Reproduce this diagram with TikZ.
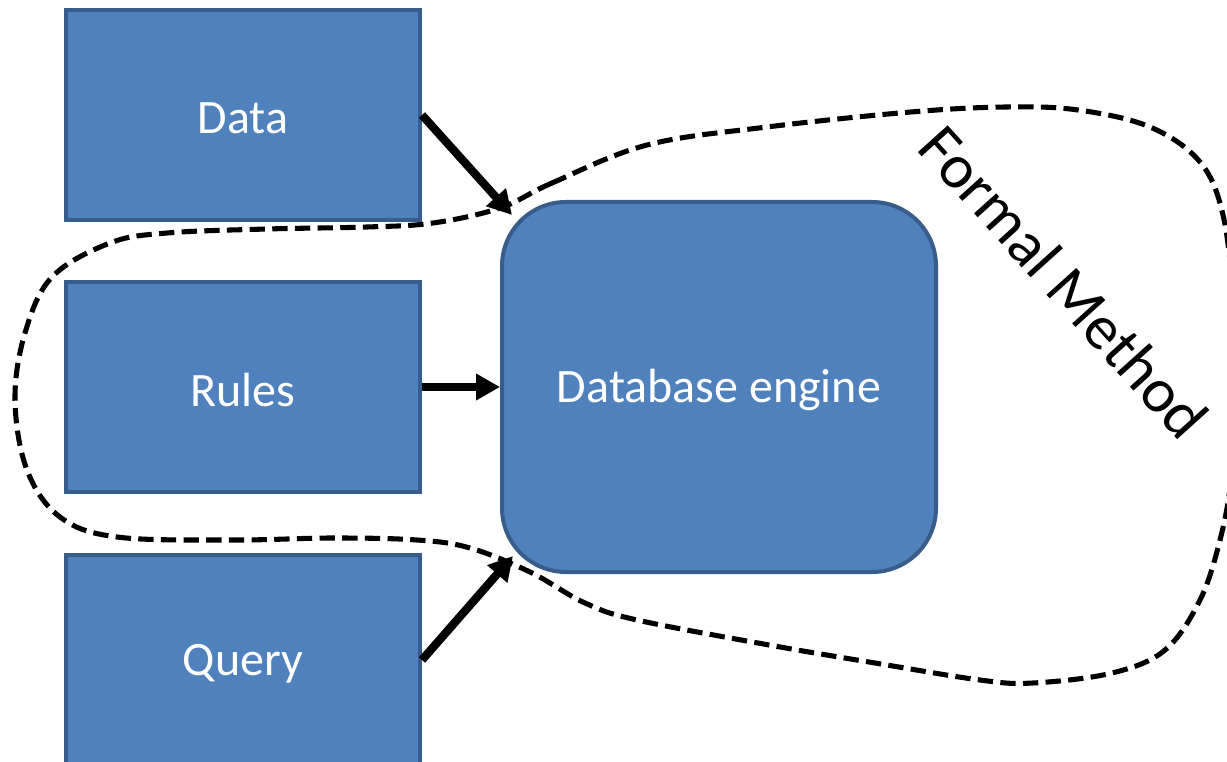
\documentclass[tikz,border=0pt]{standalone}
\usepackage{fontspec}
\setmainfont{Carlito}
\usetikzlibrary{arrows.meta}
\definecolor{boxfill}{HTML}{4F81BD}
\definecolor{boxline}{HTML}{385D8A}
% set a label a little below the centre of its box
\newcommand{\lowered}[1]{\raisebox{-2.5pt}[\height][\depth]{#1}}
\begin{document}
\begin{tikzpicture}[x=0.75pt,y=-0.75pt,
  block/.style={draw=boxline, fill=boxfill, line width=3pt, text=white,
    font=\fontsize{36}{43}\selectfont, minimum width=265.5pt,
    minimum height=157.5pt, inner sep=0pt},
  engine/.style={block, rounded corners=48pt, minimum width=325.5pt,
    minimum height=277.5pt},
  feed/.style={line width=6.2pt, -{Triangle[length=18pt,width=19pt]}},
  boundary/.style={line width=3.8pt, dash pattern=on 11.5pt off 5.5pt}]
\useasboundingbox (0,0) rectangle (1227,762);

% inputs and the engine
\node[block] (data)  at (243,115) {\lowered{Data}};
\node[block] (rules) at (243,387) {\lowered{Rules}};
\node[block] (query) at (243,660) {\lowered{Query}};
\node[engine] (engine) at (719,387) {\lowered{Database engine}};

% arrow ends on the engine's rounded corners
\coordinate (datatip)  at (512,215);
\coordinate (querytip) at (513,556);

\draw[feed] (data.east) -- (datatip);
\draw[feed] (rules.east) -- (engine.west);
\draw[feed] (query.east) -- (querytip);

% scope of the formal method
\draw[boundary] plot[smooth cycle, tension=0.6] coordinates {
  (500,208) (552,183) (647,145) (767,127) (911,112) (1006,107) (1078,110)
  (1150,127) (1200,162) (1223,215) (1233,300) (1236,400) (1231,480)
  (1220,540) (1200,600) (1165,650) (1112,673) (1033,683) (980,680)
  (875,663) (769,645) (637,620) (585,603) (530,572) (470,548)
  (417,540) (333,538) (233,540) (117,537) (60,517) (27,470) (15,400)
  (25,333) (52,277) (110,243) (167,233) (267,229) (367,227) (433,223)};

\node[rotate=-48, font=\fontsize{47}{56}\selectfont] (formal) at (1064,282) {Formal Method};
\end{tikzpicture}
\end{document}
